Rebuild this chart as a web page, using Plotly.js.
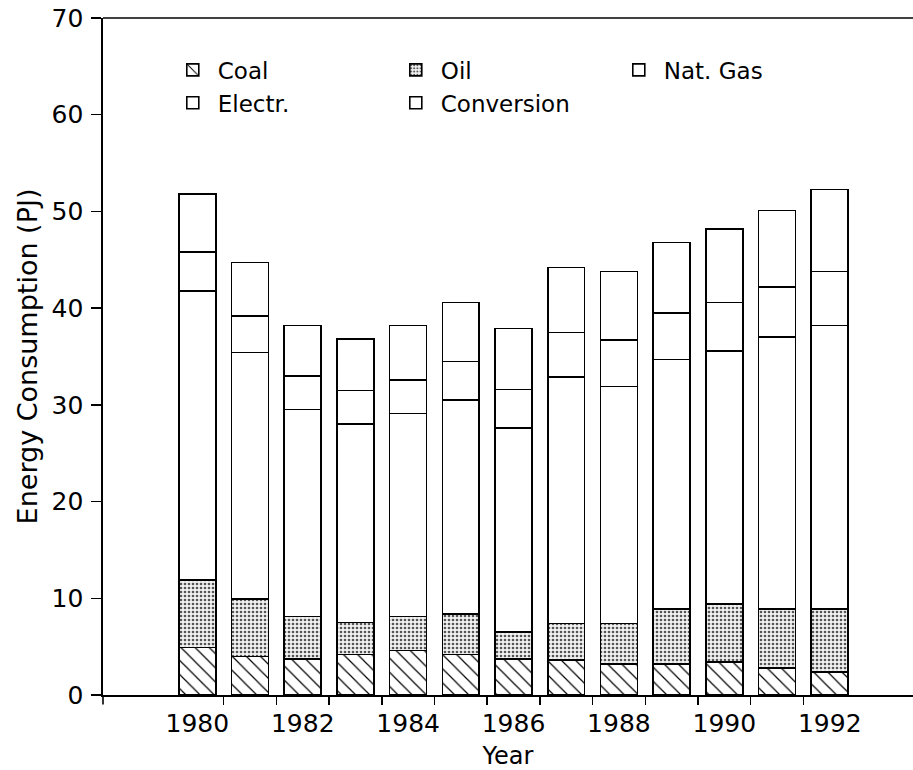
<!DOCTYPE html>
<html>
<head>
<meta charset="utf-8">
<script src="https://cdn.plot.ly/plotly-3.0.1.min.js"></script>
<style>html,body{margin:0;padding:0;background:#fff;}#chart{width:913px;height:770px;}</style>
</head>
<body>
<div id="chart"></div>
<script>
// Data (PJ)
var years = [1980, 1981, 1982, 1983, 1984, 1985, 1986, 1987, 1988, 1989, 1990, 1991, 1992];
var coal = [4.9, 4.0, 3.7, 4.2, 4.6, 4.2, 3.7, 3.6, 3.2, 3.2, 3.4, 2.8, 2.4];
var oil = [7.0, 5.9, 4.4, 3.3, 3.5, 4.2, 2.8, 3.8, 4.2, 5.7, 6.0, 6.1, 6.5];
var natGas = [29.9, 25.5, 21.4, 20.5, 21.0, 22.1, 21.1, 25.5, 24.5, 25.8, 26.2, 28.1, 29.3];
var electr = [4.0, 3.8, 3.5, 3.5, 3.5, 4.0, 4.0, 4.6, 4.8, 4.8, 5.0, 5.2, 5.6];
var conversion = [6.0, 5.5, 5.2, 5.3, 5.6, 6.1, 6.3, 6.7, 7.1, 7.3, 7.6, 7.9, 8.45];
var seriesNames = ['Coal', 'Oil', 'Nat. Gas', 'Electr.', 'Conversion'];
var labelYears = [1980, 1982, 1984, 1986, 1988, 1990, 1992];
var betweenTicks = [1980.5, 1981.5, 1982.5, 1983.5, 1984.5, 1985.5, 1986.5, 1987.5, 1988.5, 1989.5, 1990.5, 1991.5];
var yTicks = [0, 10, 20, 30, 40, 50, 60, 70];

var FONT = 'DejaVu Sans, sans-serif';
var outline = {color: '#000', width: 1.6};

function barTrace(name, vals, pattern) {
  var m = {color: '#ffffff', line: outline};
  if (pattern) m.pattern = pattern;
  return {type: 'bar', name: name, x: years, y: vals, width: 0.7, marker: m};
}

var traces = [
  barTrace(seriesNames[0], coal, {shape: '\\', fgcolor: '#000', bgcolor: '#fff', size: 10, solidity: 0.12}),
  barTrace(seriesNames[1], oil, {shape: '.', fgcolor: '#555', bgcolor: '#f2f2f2', size: 4, solidity: 0.35}),
  barTrace(seriesNames[2], natGas),
  barTrace(seriesNames[3], electr),
  barTrace(seriesNames[4], conversion)
];

var layout = {
  width: 913, height: 770,
  margin: {l: 103, r: 0, t: 18, b: 75},
  paper_bgcolor: '#fff', plot_bgcolor: '#fff',
  barmode: 'stack',
  font: {family: FONT, size: 24, color: '#000'},
  showlegend: true,
  legend: {
    orientation: 'h', x: 0.08, xanchor: 'left', y: 0.955, yanchor: 'top',
    traceorder: 'normal', entrywidth: 168, entrywidthmode: 'pixels',
    font: {family: FONT, size: 23, color: '#000'}, bgcolor: 'rgba(0,0,0,0)', itemwidth: 40
  },
  xaxis: {
    range: [1978.21, 1993.58],
    tickmode: 'array', tickvals: labelYears, ticktext: labelYears.map(String),
    ticks: '', ticklabelstandoff: 5,
    tickfont: {family: FONT, size: 25, color: '#000'},
    showline: true, linecolor: '#000', linewidth: 1.6,
    showgrid: false, zeroline: false,
    minor: {tickmode: 'array', tickvals: betweenTicks, ticks: 'outside', ticklen: 8, tickwidth: 1.5, tickcolor: '#000', showgrid: false},
    title: {text: 'Year', font: {family: FONT, size: 24, color: '#000'}, standoff: 11}
  },
  yaxis: {
    range: [0, 70],
    tickmode: 'array', tickvals: yTicks,
    ticks: 'outside', ticklen: 10, tickwidth: 1.5, tickcolor: '#000', ticklabelstandoff: 3,
    tickfont: {family: FONT, size: 25, color: '#000'},
    showline: true, linecolor: '#000', linewidth: 1.6,
    showgrid: false, zeroline: false,
    title: {text: 'Energy Consumption (PJ)', font: {family: FONT, size: 27, color: '#000'}, standoff: 6}
  },
  shapes: [
    {type: 'line', xref: 'paper', yref: 'paper', x0: 0, x1: 1, y0: 1, y1: 1, line: {color: '#000', width: 1.6}},
    {type: 'line', xref: 'paper', yref: 'paper', x0: 0, x1: 0, y0: 0, y1: -0.014, line: {color: '#000', width: 1.6}}
  ]
};

Plotly.newPlot('chart', traces, layout, {displayModeBar: false, staticPlot: true});
</script>
</body>
</html>
